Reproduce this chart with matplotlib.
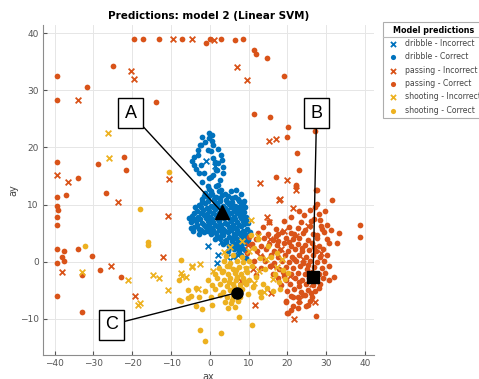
import numpy as np
import matplotlib.pyplot as plt
from matplotlib.lines import Line2D

plt.rcParams['font.family'] = ['DejaVu Sans']

# ---- data (ax, ay) ----
dribble_bad = np.array([
    [-0.6, 2.8], [2.0, 1.2], [1.9, -0.3], [4.3, 0.8], [5.9, 0.9], [7.2, 1.2],
    [-1.0, 17.7], [1.2, 16.7], [3.0, 3.5]])

dribble_ok = np.array([
    # upper tail
    [-0.1, 22.5], [0.6, 22.1], [-1.9, 21.8], [-1.2, 21.0], [-2.5, 20.5], [0.9, 20.5],
    [-3.1, 19.6], [0.3, 19.3], [2.9, 18.7], [-4.0, 18.4], [-4.6, 17.7], [1.4, 17.5],
    [-4.0, 17.0], [3.3, 16.6], [-2.7, 15.5], [-1.4, 15.5], [0.7, 15.2], [-0.1, 14.6],
    [2.5, 14.3], [-1.9, 14.0], [-0.6, 13.2], [1.6, 13.2], [0.3, 12.3], [2.9, 12.6],
    [-3.5, 16.2], [-3.0, 18.6], [2.0, 19.8], [-2.2, 17.0], [1.9, 16.0], [-0.1, 21.6],
    [0.6, 21.2], [-2.3, 20.5], [-0.6, 19.6], [3.1, 17.8], [0.7, 18.2], [2.0, 17.3],
    [3.5, 15.5], [1.6, 16.1], [0.3, 14.9], [2.0, 13.5],
    # core
    [-1.2, 12.1], [0.6, 11.8], [2.3, 12.3], [3.9, 11.9], [5.4, 12.4], [-0.3, 12.8],
    [-2.1, 11.0], [-0.6, 11.3], [1.1, 10.9], [2.6, 11.2], [4.2, 10.8], [5.7, 11.1],
    [7.2, 10.9], [8.7, 10.6], [-2.8, 9.9], [-1.2, 10.2], [0.4, 9.8], [1.9, 10.1],
    [3.4, 9.7], [5.0, 10.1], [6.4, 9.8], [7.9, 10.0], [9.1, 9.6], [-3.3, 8.9],
    [-1.7, 9.1], [-0.1, 8.8], [1.4, 9.2], [2.9, 8.9], [4.5, 9.0], [6.1, 8.8],
    [7.6, 9.1], [8.9, 8.7], [-4.6, 8.0], [-3.1, 7.8], [-1.5, 8.1], [0.1, 7.9],
    [1.6, 8.2], [3.2, 7.8], [4.7, 8.1], [6.2, 7.9], [7.8, 8.0], [9.3, 7.8],
    [-4.9, 6.9], [-3.6, 7.2], [-2.1, 6.8], [-0.6, 7.1], [0.9, 6.9], [2.4, 7.2],
    [3.9, 6.8], [5.4, 7.1], [7.0, 6.9], [8.5, 7.2], [9.8, 6.8], [-4.2, 6.0],
    [-2.7, 5.8], [-1.1, 6.1], [0.4, 5.9], [1.9, 6.2], [3.5, 5.8], [5.0, 6.1],
    [6.6, 5.9], [8.1, 6.2], [9.6, 5.8], [-2.9, 4.9], [-1.4, 5.2], [0.2, 4.8],
    [1.6, 5.1], [3.1, 4.9], [4.6, 5.2], [6.1, 4.8], [7.6, 5.1], [9.1, 4.9],
    [10.3, 5.2], [1.2, 3.9], [2.6, 4.2], [4.1, 3.8], [5.6, 4.1], [7.1, 3.9],
    [8.6, 4.2], [9.9, 3.8], [3.4, 3.1], [4.9, 2.8], [6.4, 3.1], [7.9, 2.9],
    [9.4, 3.2], [4.6, 1.9], [6.1, 2.2], [7.6, 1.8], [9.0, 2.1], [6.2, 1.0],
    [7.9, 1.2], [9.2, 0.7], [-3.8, 9.6], [-4.4, 5.3], [8.0, 11.8], [6.8, 12.6],
    [-5.3, 7.6], [-4.9, 5.9],
    # filling between the rows
    [-1.5, 11.5], [0.0, 11.6], [1.7, 11.4], [3.2, 11.6], [4.8, 11.5], [6.4, 11.4],
    [-2.0, 10.5], [-0.4, 10.6], [1.2, 10.4], [2.7, 10.6], [4.3, 10.5], [5.8, 10.4],
    [7.4, 10.6], [8.6, 10.3], [-2.4, 9.5], [-0.8, 9.4], [0.7, 9.6], [2.2, 9.5],
    [3.8, 9.4], [5.4, 9.6], [6.9, 9.5], [8.4, 9.4], [-4.0, 8.5], [-2.3, 8.6],
    [-0.8, 8.4], [0.8, 8.5], [2.3, 8.6], [3.8, 8.4], [5.4, 8.5], [6.9, 8.6],
    [8.3, 8.4], [-4.1, 7.5], [-2.6, 7.4], [-1.0, 7.6], [0.5, 7.5], [2.0, 7.4],
    [3.6, 7.6], [5.1, 7.5], [6.6, 7.4], [8.0, 7.6], [9.4, 7.5], [-3.3, 6.5],
    [-1.6, 6.4], [-0.1, 6.6], [1.4, 6.5], [2.9, 6.4], [4.4, 6.6], [6.0, 6.5],
    [7.5, 6.4], [8.9, 6.6], [-2.2, 5.5], [-0.6, 5.4], [0.9, 5.6], [2.4, 5.5],
    [4.0, 5.4], [5.5, 5.6], [7.1, 5.5], [8.6, 5.4], [1.9, 4.5], [3.4, 4.6],
    [4.9, 4.4], [6.5, 4.5], [8.0, 4.6], [9.4, 4.4], [4.2, 3.5], [5.7, 3.6],
    [7.2, 3.4], [8.7, 3.5], [5.4, 2.5], [6.9, 2.6], [8.3, 2.4]])

passing_bad = np.array([
    [-9.5, 39.0], [-4.6, 39.0], [1.1, 38.8], [6.9, 34.1], [9.5, 31.8], [15.2, 21.2],
    [17.1, 21.5], [19.8, 14.3], [12.9, 13.7], [-33.9, 28.3], [-20.2, 33.3],
    [-19.5, 32.0], [-39.4, 15.2], [-36.6, 13.9], [-23.6, 10.5], [-10.5, 14.5],
    [-10.8, 8.0], [-38.1, -1.8], [-25.5, -0.8], [-12.1, 0.9], [-19.2, -5.9],
    [21.8, -10.0], [11.6, -7.5], [18.1, 11.0], [14.7, 7.8], [15.2, 6.9], [21.4, 9.4],
    [22.2, 12.6], [25.2, 6.3], [15.8, -5.4], [17.8, 10.8], [8.0, -3.4],
    [13.0, 1.0], [16.4, -0.8], [18.3, 2.2], [20.6, -2.4], [24.1, 0.5], [26.2, -3.8],
    [22.2, 4.5], [28.6, 1.6], [19.2, 5.4], [11.0, -1.2], [23.0, -6.6], [15.5, 4.0],
    [9.8, 3.0], [27.0, -7.1]])

passing_ok = np.array([
    # sparse outer points
    [-19.5, 39.0], [-17.2, 39.0], [-13.2, 39.0], [-7.2, 39.0], [-1.0, 38.3],
    [0.05, 38.9], [2.8, 38.9], [6.6, 38.7], [8.5, 39.0], [11.5, 37.1], [11.9, 36.3],
    [14.7, 35.7], [19.2, 32.5], [11.3, 25.9], [15.4, 25.4], [20.1, 23.5], [19.9, 21.9],
    [22.5, 19.0], [23.0, 16.0], [17.0, 14.8], [27.2, 22.9], [-39.4, 32.5],
    [-24.9, 34.3], [-31.7, 30.6], [-39.3, 28.3], [-13.9, 27.9], [-39.4, 17.4],
    [-28.8, 17.1], [-22.2, 18.4], [-21.6, 16.0], [-33.9, 14.6], [-37.0, 11.7],
    [-39.4, 11.3], [-39.4, 9.8], [-39.1, 9.1], [-39.4, 7.9], [-39.4, 6.5],
    [-26.8, 12.0], [-39.4, 2.2], [-37.6, 1.9], [-38.1, 0.75], [-39.4, -0.2],
    [-37.5, 0.2], [-33.9, 2.3], [-30.4, 1.0], [-32.9, -2.3], [-28.2, -1.5],
    [-22.9, -2.7], [-39.4, -5.9], [-32.9, -8.8], [31.4, 10.8], [38.7, 6.5],
    [38.7, 4.4], [33.4, 5.1], [31.3, 5.6], [32.7, 3.3], [30.8, 3.3], [27.6, 10.1],
    [27.7, 12.5], [22.2, 13.5], [25.7, 9.1], [23.1, 8.8], [28.3, 7.3], [28.7, 6.2],
    [21.0, 5.0], [17.6, 4.9], [17.5, 3.6], [32.1, -2.6], [30.8, -3.1], [28.1, -4.6],
    [19.5, -6.9], [20.1, -9.0], [22.7, -8.1], [25.2, -7.5], [27.4, -9.4],
    [23.9, -5.8], [21.4, -6.1], [21.0, -8.4], [24.9, -7.7], [19.5, -7.1],
    [21.5, -7.7], [19.8, -9.0], [22.1, 13.3], [27.4, 12.6], [24.3, 8.2], [26.9, 7.5],
    [29.6, 8.9], [27.2, 9.6], [21.0, 7.9], [30.3, 6.4], [28.0, 8.4], [27.5, 4.6],
    # dense cluster
    [15.3, 7.0], [19.2, 7.2], [23.4, 6.9], [26.1, 7.1],
    [13.8, 6.0], [17.0, 5.8], [20.4, 6.1], [22.6, 5.9], [25.8, 6.2], [28.9, 5.8],
    [12.4, 5.1], [14.9, 4.8], [18.6, 5.2], [21.7, 4.9], [24.0, 5.1], [26.7, 4.8], [29.4, 5.2],
    [11.8, 3.9], [14.0, 4.2], [16.2, 3.8], [19.5, 4.1], [21.3, 3.9], [23.1, 4.2],
    [25.2, 3.8], [27.5, 4.1], [30.1, 3.9],
    [10.9, 3.1], [13.2, 2.8], [15.3, 3.1], [17.4, 2.9], [19.0, 3.2], [20.9, 2.8],
    [22.6, 3.1], [24.5, 2.9], [26.3, 3.2], [28.2, 2.8],
    [12.1, 1.9], [14.4, 2.2], [16.6, 1.8], [18.1, 2.1], [20.2, 1.9], [22.0, 2.2],
    [23.7, 1.8], [25.6, 2.1], [27.4, 1.9], [29.1, 2.2],
    [13.5, 0.9], [15.7, 1.2], [17.5, 0.8], [19.3, 1.1], [21.1, 0.9], [22.9, 1.2],
    [24.8, 0.8], [26.6, 1.1], [28.4, 0.9], [30.2, 1.2],
    [14.2, 0.1], [16.5, -0.2], [18.6, 0.2], [20.4, -0.1], [22.3, 0.1], [24.0, -0.2],
    [25.9, 0.2], [27.7, -0.1], [29.5, 0.1],
    [13.1, -1.1], [15.4, -0.8], [17.8, -1.2], [19.7, -0.9], [21.5, -1.1], [23.3, -0.8],
    [25.0, -1.2], [26.9, -0.9], [28.8, -1.1], [30.6, -0.8],
    [16.3, -2.1], [18.9, -1.8], [20.8, -2.2], [22.6, -1.9], [24.4, -2.1], [26.2, -1.8],
    [28.0, -2.2], [29.7, -1.9],
    [17.5, -2.9], [19.6, -3.2], [21.9, -2.8], [23.7, -3.1], [25.5, -2.9], [27.3, -3.2],
    [29.2, -2.8],
    [18.4, -4.1], [20.7, -3.8], [22.9, -4.2], [24.8, -3.9], [26.6, -4.1], [28.5, -3.8],
    [19.8, -5.1], [21.7, -4.8], [23.6, -5.2], [25.4, -4.9], [27.2, -5.1],
    [20.9, -6.0], [22.8, -6.2], [24.4, -5.8], [26.3, -6.1], [23.0, -7.0], [25.8, -6.9],
    [10.2, 4.4], [9.6, 1.5], [11.4, 0.2], [12.0, -2.3],
    [20.3, 3.5], [23.8, 2.4], [26.9, 2.5], [21.8, 0.4], [25.3, -0.5], [19.1, -2.5],
    [23.0, -3.6], [26.0, -5.5], [17.0, 4.5], [24.6, 5.6]])

shooting_bad = np.array([
    [-26.2, 22.6], [-26.0, 18.1], [-33.0, -1.8], [-21.1, -3.1], [-14.6, -2.3],
    [-13.0, -2.9], [-18.4, -7.6], [-17.9, -7.2], [-10.8, -4.9], [-7.5, -2.0],
    [-6.1, -2.7], [-4.5, -0.9], [-3.0, -4.7], [-2.6, -0.35], [-4.6, -0.8], [0.7, -1.7],
    [11.5, -3.7], [-7.2, -2.5], [10.5, 7.3], [3.7, 1.7], [12.5, 4.5],
    [10.2, 1.9], [12.6, -1.6], [14.5, 0.4], [16.4, -3.0], [18.7, 0.5], [9.4, -1.2],
    [13.9, -5.3], [17.4, -1.0], [5.2, 2.6], [8.3, 3.7]])

shooting_ok = np.array([
    # sparse
    [-32.1, 2.7], [-17.9, 9.3], [-15.9, 3.5], [-15.9, 3.0], [-10.6, 15.7], [-7.4, 0.35],
    [-7.4, -6.8], [-5.6, -6.4], [-4.9, -5.9], [-2.6, -11.9], [-2.8, -6.1], [-1.2, -13.8],
    [2.9, -12.4], [7.6, -9.7], [10.8, -11.1], [-1.9, -8.2], [0.6, -7.6], [-3.7, -7.7],
    [12.8, -5.2], [-7.9, -6.6], [-3.6, -4.6], [-5.7, -4.9], [-7.9, -3.1], [3.3, -1.7],
    # core
    [4.1, 1.0], [6.0, 1.2], [8.2, 0.8],
    [3.6, 0.1], [5.2, -0.2], [6.9, 0.2], [8.5, -0.1], [10.1, 0.1],
    [2.4, -1.1], [4.3, -0.8], [5.9, -1.2], [7.5, -0.9], [9.2, -1.1], [10.8, -0.8],
    [1.2, -2.1], [3.1, -1.8], [4.8, -2.2], [6.4, -1.9], [8.0, -2.1], [9.6, -1.8],
    [-0.6, -3.1], [1.9, -2.8], [3.7, -3.2], [5.3, -2.9], [6.8, -3.1], [8.6, -2.8], [10.2, -3.2],
    [0.5, -4.1], [2.6, -3.8], [4.4, -4.2], [5.9, -3.9], [7.7, -4.1], [9.3, -3.8],
    [-1.3, -5.1], [1.4, -4.8], [3.5, -5.2], [5.1, -4.9], [6.6, -5.1], [8.3, -4.8],
    [0.2, -6.1], [2.6, -5.8], [4.4, -6.2], [6.0, -5.9], [7.8, -6.1],
    [3.9, -7.0], [5.4, -7.2], [7.2, -6.8], [4.8, -8.1], [6.5, -7.9],
    [5.0, -0.7], [6.8, -1.4], [7.1, -2.6], [4.9, -3.6], [6.1, -4.4], [7.3, -5.4],
    [5.6, -6.6], [8.9, -3.3],
    # mixed with passing
    [11.5, 2.4], [12.9, 0.6], [14.2, -1.3], [11.8, -2.6], [13.6, -3.9], [15.7, 0.9],
    [16.9, -2.2], [17.8, -3.6], [18.9, -1.4], [19.4, -3.0], [15.1, 2.8], [17.3, 1.6],
    [12.4, 3.9], [10.6, 4.6], [14.8, -4.6], [16.2, -5.1], [18.2, -4.8], [20.1, -2.0],
    [13.1, -6.2], [9.9, -5.6], [11.2, -4.4]])

groups = ['dribble - Incorrect', 'dribble - Correct', 'passing - Incorrect',
          'passing - Correct', 'shooting - Incorrect', 'shooting - Correct']

mean_a = [3.1, 8.7]     # triangle
mean_b = [26.6, -2.6]   # square
mean_c = [7.0, -5.4]    # circle

blue, orange, yellow = '#0072BD', '#D95319', '#EDB120'

fig = plt.figure(figsize=(4.79, 3.79), dpi=100)
ax = fig.add_axes([43 / 479, 24 / 379, 331 / 479, 330 / 379])

ax.scatter(dribble_bad[:, 0], dribble_bad[:, 1], s=17, marker='x', c=blue, linewidths=1.3, label=groups[0])
ax.scatter(dribble_ok[:, 0], dribble_ok[:, 1], s=17, marker='o', c=blue, linewidths=0, label=groups[1])
ax.scatter(passing_bad[:, 0], passing_bad[:, 1], s=17, marker='x', c=orange, linewidths=1.3, label=groups[2])
ax.scatter(passing_ok[:, 0], passing_ok[:, 1], s=17, marker='o', c=orange, linewidths=0, label=groups[3])
ax.scatter(shooting_bad[:, 0], shooting_bad[:, 1], s=17, marker='x', c=yellow, linewidths=1.3, label=groups[4])
ax.scatter(shooting_ok[:, 0], shooting_ok[:, 1], s=17, marker='o', c=yellow, linewidths=0, label=groups[5])

ax.plot(*mean_a, marker='^', color='black', markersize=10, zorder=10)
ax.plot(*mean_b, marker='s', color='black', markersize=8, zorder=10)
ax.plot(*mean_c, marker='o', color='black', markersize=8, zorder=10)

box = dict(boxstyle='square,pad=0.35', fc='white', ec='black', lw=1)
for lab, pt, txt in [('A', mean_a, (-20.4, 26.0)), ('B', mean_b, (27.5, 26.0)),
                     ('C', mean_c, (-25.3, -11.0))]:
    ax.annotate(lab, xy=pt, xytext=txt, fontsize=13, family='Liberation Sans',
                ha='center', va='center', bbox=box, zorder=9,
                arrowprops=dict(arrowstyle='-', color='black', lw=1,
                                shrinkA=0, shrinkB=0))

ax.set_xlim(-43, 42.3)
ax.set_ylim(-16.3, 41.4)
ax.set_xticks(range(-40, 41, 10))
ax.set_yticks(range(-10, 41, 10))
ax.grid(True, color='#e6e6e6', lw=0.7)
ax.set_axisbelow(True)
for s in ['top', 'right']:
    ax.spines[s].set_visible(False)
for s in ['left', 'bottom']:
    ax.spines[s].set_color('#8c8c8c')
ax.tick_params(direction='in', length=3, labelsize=6.5, colors='#555555', pad=3)
ax.set_xlabel('ax', fontsize=7, color='#444444', labelpad=3)
ax.set_ylabel('ay', fontsize=7, color='#444444', labelpad=1)
ax.set_title('Predictions: model 2 (Linear SVM)', fontsize=7.5, fontweight='bold', pad=4)

leg = ax.legend(loc='upper left', bbox_to_anchor=(383 / 479, 1 - 22 / 379),
                bbox_transform=fig.transFigure, borderaxespad=0, fontsize=5.6,
                title='Model predictions', title_fontproperties={'size': 5.8, 'weight': 'bold'},
                frameon=True, fancybox=False, edgecolor='#999999', labelspacing=0.55,
                handletextpad=0.8, handlelength=1.5, borderpad=0.5, markerscale=0.9)
leg.get_frame().set_linewidth(0.8)
for t in leg.get_texts():
    t.set_color('#444444')
fig.add_artist(Line2D([383 / 479, 1.0], [1 - 37 / 379] * 2, color='#bbbbbb', lw=0.8))

plt.savefig('out.png', dpi=100)
